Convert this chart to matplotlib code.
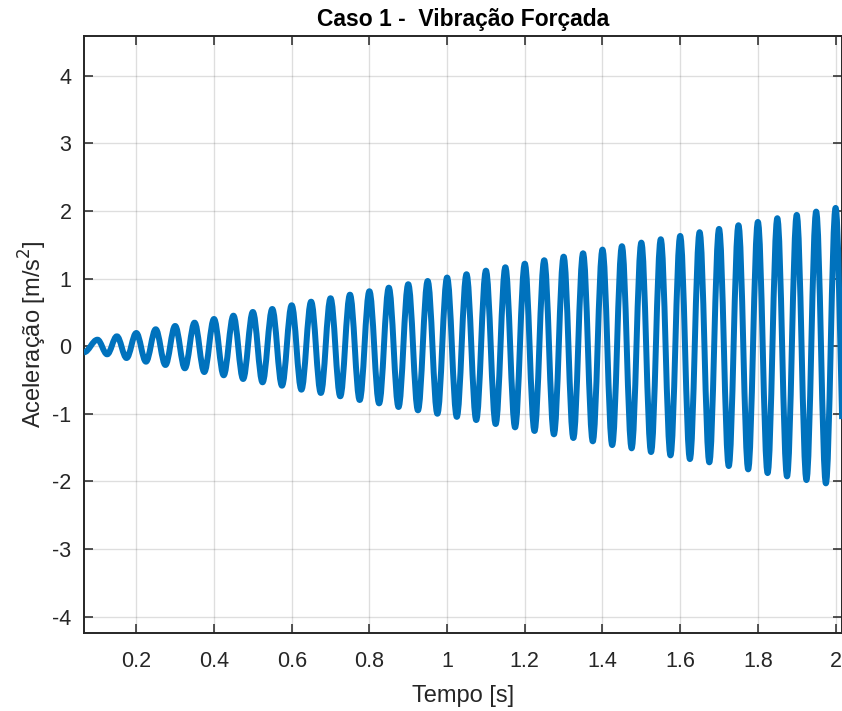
import numpy as np
import matplotlib
matplotlib.use("Agg")
import matplotlib.pyplot as plt
from matplotlib.path import Path
from matplotlib.patches import PathPatch

plt.rcParams['font.family'] = ['Liberation Sans', 'DejaVu Sans']
plt.rcParams['axes.unicode_minus'] = False

######## data (extrema of the response)

t_start = 0.0654
a_start = -0.09
t_end = 2.0168   # the record stops here, on the way down to the last trough

peak_t = [0.10, 0.15, 0.20, 0.25, 0.30, 0.35, 0.40, 0.45, 0.50, 0.55,
          0.60, 0.65, 0.70, 0.75, 0.80, 0.85, 0.90, 0.95, 1.00, 1.05,
          1.10, 1.15, 1.20, 1.25, 1.30, 1.35, 1.40, 1.45, 1.50, 1.55,
          1.60, 1.65, 1.70, 1.75, 1.80, 1.85, 1.90, 1.95, 2.00]
peak_a = [0.096, 0.146, 0.195, 0.250, 0.299, 0.348, 0.402, 0.451, 0.506, 0.550,
          0.605, 0.658, 0.709, 0.762, 0.812, 0.865, 0.916, 0.964, 1.015, 1.064,
          1.117, 1.167, 1.220, 1.271, 1.324, 1.374, 1.428, 1.478, 1.531, 1.581,
          1.630, 1.685, 1.734, 1.788, 1.837, 1.892, 1.941, 1.990, 2.044]

trough_t = [0.125, 0.175, 0.225, 0.275, 0.325, 0.375, 0.425, 0.475, 0.525, 0.575,
            0.625, 0.675, 0.725, 0.775, 0.825, 0.875, 0.925, 0.975, 1.025, 1.075,
            1.125, 1.175, 1.225, 1.275, 1.325, 1.375, 1.425, 1.475, 1.525, 1.575,
            1.625, 1.675, 1.725, 1.775, 1.825, 1.875, 1.925, 1.975, 2.025]
trough_a = [-0.120, -0.175, -0.229, -0.278, -0.327, -0.382, -0.430, -0.485, -0.534, -0.584,
            -0.643, -0.692, -0.741, -0.796, -0.845, -0.899, -0.948, -0.999, -1.045, -1.092,
            -1.151, -1.200, -1.254, -1.303, -1.358, -1.407, -1.462, -1.510, -1.565, -1.614,
            -1.669, -1.717, -1.772, -1.821, -1.876, -1.925, -1.979, -2.028, -2.080]

xticks = [0.2, 0.4, 0.6, 0.8, 1.0, 1.2, 1.4, 1.6, 1.8, 2.0]
xticklabels = ["0.2", "0.4", "0.6", "0.8", "1", "1.2", "1.4", "1.6", "1.8", "2"]
yticks = [-4, -3, -2, -1, 0, 1, 2, 3, 4]

########

fig = plt.figure(figsize=(8.42, 7.11), dpi=100)
ax = fig.add_axes([84 / 842, 1 - 633 / 711, (841.5 - 84) / 842, (633 - 35.7) / 711])

# extrema in time order: start, peak, trough, peak, ...
ext_t = [t_start]
ext_a = [a_start]
for tp, ap, tt, at in zip(peak_t, peak_a, trough_t, trough_a):
    ext_t += [tp, tt]
    ext_a += [ap, at]


def bezier_head(p0, p1, p2, p3, u):
    # de Casteljau: first part of a cubic segment, up to parameter u
    q0 = p0 + u * (p1 - p0)
    q1 = p1 + u * (p2 - p1)
    q2 = p2 + u * (p3 - p2)
    r0 = q0 + u * (q1 - q0)
    r1 = q1 + u * (q2 - q1)
    s = r0 + u * (r1 - r0)
    return q0, r0, s


# smooth half-waves between extrema as cubic Bezier segments
k = 1 - 2 / np.pi
verts = [(ext_t[0], ext_a[0])]
codes = [Path.MOVETO]
for i in range(1, len(ext_t)):
    h = ext_t[i] - ext_t[i - 1]
    p0 = np.array([ext_t[i - 1], ext_a[i - 1]])
    p1 = np.array([ext_t[i - 1] + k * h, ext_a[i - 1]])
    p2 = np.array([ext_t[i] - k * h, ext_a[i]])
    p3 = np.array([ext_t[i], ext_a[i]])
    if ext_t[i] > t_end:
        lo, hi = 0.0, 1.0
        for _ in range(40):
            mid = 0.5 * (lo + hi)
            if bezier_head(p0, p1, p2, p3, mid)[2][0] < t_end:
                lo = mid
            else:
                hi = mid
        p1, p2, p3 = bezier_head(p0, p1, p2, p3, lo)
        verts += [tuple(p1), tuple(p2), tuple(p3)]
        codes += [Path.CURVE4] * 3
        break
    verts += [tuple(p1), tuple(p2), tuple(p3)]
    codes += [Path.CURVE4] * 3

signal = PathPatch(Path(verts, codes), fill=False, edgecolor="#0072BD",
                   linewidth=4.3, capstyle="butt", joinstyle="round", zorder=3)
ax.add_patch(signal)

ax.set_xlim(0.0654, 2.0152)
ax.set_ylim(-4.24, 4.59)

ax.set_xticks(xticks)
ax.set_xticklabels(xticklabels)
ax.set_yticks(yticks)

ax.grid(True, color="#262626", alpha=0.15, linewidth=1.0)
ax.set_axisbelow(True)

for s in ax.spines.values():
    s.set_color("#262626")
    s.set_linewidth(1.4)

ax.tick_params(direction="in", length=6.5, width=1.1, colors="#262626",
               labelsize=15.5, top=True, right=True)
ax.tick_params(axis="x", pad=13)
ax.tick_params(axis="y", pad=9)

ax.set_title("Caso 1 -  Vibração Forçada", fontsize=16.5, fontweight="bold",
             color="black", pad=7)
ax.set_xlabel("Tempo [s]", fontsize=17, color="#262626", labelpad=9)
ax.set_ylabel(r"Aceleração [m/s$^2$]", fontsize=17, color="#262626", labelpad=2)

plt.savefig("out.png", dpi=100)
